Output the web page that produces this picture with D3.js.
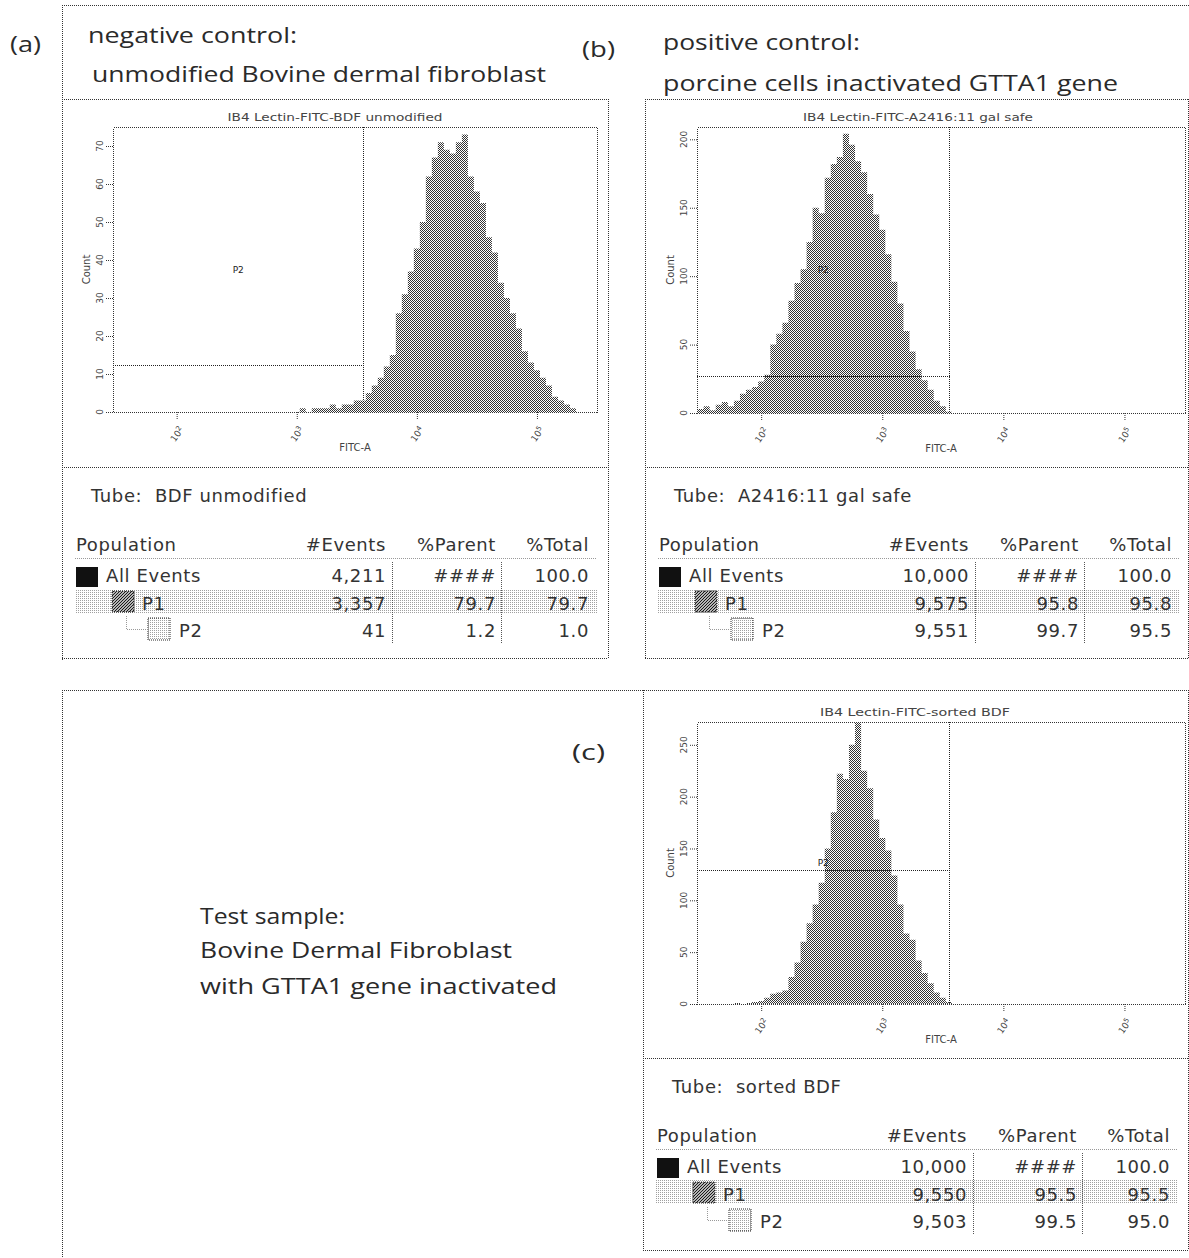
<!DOCTYPE html>
<html>
<head>
<meta charset="utf-8">
<script src="https://cdn.jsdelivr.net/npm/d3@7"></script>
<style>
body { margin: 0; background: #fff; }
svg { display: block; }
</style>
</head>
<body>
<script>
var width = 1189;
var height = 1258;

// histogram bins: log10(FITC-A) bin centre and event count
var negLog = [3.00,3.05,3.10,3.15,3.20,3.25,3.30,3.35,3.40,3.45,3.50,3.55,3.60,3.65,3.70,3.75,3.80,3.85,3.90,3.95,
              4.00,4.05,4.10,4.15,4.20,4.25,4.30,4.35,4.40,4.45,4.50,4.55,4.60,4.65,4.70,4.75,4.80,4.85,4.90,4.95,
              5.00,5.05,5.10,5.15,5.20,5.25,5.30,5.35];
var negCount = [0,1,0,1,1,1,2,1,2,2,3,3,5,7,9,12,15,26,31,37,
                43,50,62,67,71,69,68,71,73,62,58,55,46,42,34,30,26,22,16,13,
                11,9,7,4,3,2,1,0];

var posLog = [1.50,1.55,1.60,1.65,1.70,1.75,1.80,1.85,1.90,1.95,2.00,2.05,2.10,2.15,2.20,2.25,2.30,2.35,2.40,2.45,
              2.50,2.55,2.60,2.65,2.70,2.75,2.80,2.85,2.90,2.95,3.00,3.05,3.10,3.15,3.20,3.25,3.30,3.35,3.40,3.45,
              3.50,3.55];
var posCount = [3,5,2,6,8,5,9,14,17,19,23,28,50,58,66,82,95,105,125,150,
                146,172,182,187,204,196,184,176,160,145,134,116,96,80,60,45,32,24,17,9,
                5,1];

var testLog = [1.80,1.85,1.90,1.95,2.00,2.05,2.10,2.15,2.20,2.25,2.30,2.35,2.40,2.45,2.50,2.55,2.60,2.65,2.70,2.75,
               2.80,2.85,2.90,2.95,3.00,3.05,3.10,3.15,3.20,3.25,3.30,3.35,3.40,3.45,3.50,3.55];
var testCount = [1,0,1,2,3,6,10,11,13,26,40,60,78,96,117,150,185,222,217,250,
                 272,225,208,178,160,148,124,96,68,62,42,30,20,11,6,2];

var binHalf = 0.025;
var xDomain = [Math.pow(10, 1.47), Math.pow(10, 5.5)];
var xMajor = [1e2, 1e3, 1e4, 1e5];
var xExp = ["2", "3", "4", "5"];

var negYTicks = [0, 10, 20, 30, 40, 50, 60, 70];
var posYTicks = [0, 50, 100, 150, 200];
var testYTicks = [0, 50, 100, 150, 200, 250];

// P2 interval gate: upper FITC limit (log10) and the height its bar is drawn at
var gateLog = 3.55;
var negGateY = 12.5, posGateY = 27, testGateY = 129;

// population tables
var tableHead = ["Population", "#Events", "%Parent", "%Total"];
var popNames = ["All Events", "P1", "P2"];
var negEvents = ["4,211", "3,357", "41"];
var negParent = ["####", "79.7", "1.2"];
var negTotal = ["100.0", "79.7", "1.0"];
var posEvents = ["10,000", "9,575", "9,551"];
var posParent = ["####", "95.8", "99.7"];
var posTotal = ["100.0", "95.8", "95.5"];
var testEvents = ["10,000", "9,550", "9,503"];
var testParent = ["####", "95.5", "99.5"];
var testTotal = ["100.0", "95.5", "95.0"];

var svg = d3.select("body")
  .append("svg")
  .attr("width", width)
  .attr("height", height);

var defs = svg.append("defs");

// dithered look of the scanned print
var chk = defs.append("pattern").attr("id", "chk")
  .attr("width", 2).attr("height", 2).attr("patternUnits", "userSpaceOnUse");
chk.append("rect").attr("width", 2).attr("height", 2).attr("fill", "#fff");
chk.append("rect").attr("width", 1).attr("height", 1).attr("fill", "#333");
chk.append("rect").attr("x", 1).attr("y", 1).attr("width", 1).attr("height", 1).attr("fill", "#333");

var light = defs.append("pattern").attr("id", "light")
  .attr("width", 2).attr("height", 2).attr("patternUnits", "userSpaceOnUse");
light.append("rect").attr("width", 2).attr("height", 2).attr("fill", "#fff");
light.append("rect").attr("width", 1).attr("height", 1).attr("fill", "#a0a0a0");

var hatch = defs.append("pattern").attr("id", "hatch")
  .attr("width", 3).attr("height", 3).attr("patternUnits", "userSpaceOnUse");
hatch.append("rect").attr("width", 3).attr("height", 3).attr("fill", "#fff");
hatch.append("path").attr("d", "M-1,1 L1,-1 M0,3 L3,0 M2,4 L4,2").attr("stroke", "#111").attr("stroke-width", 1.2);

function dline(x1, y1, x2, y2) {
  svg.append("line")
    .attr("x1", x1).attr("y1", y1).attr("x2", x2).attr("y2", y2)
    .attr("stroke", "#333")
    .attr("stroke-dasharray", "1,1")
    .attr("shape-rendering", "crispEdges");
}

// outer frames
dline(62, 5.5, 1189, 5.5);
dline(62.5, 5, 62.5, 660);
dline(62, 99.5, 608, 99.5);
dline(608.5, 99, 608.5, 658);
dline(62, 467.5, 608, 467.5);
dline(62, 658.5, 608, 658.5);
dline(645, 99.5, 1189, 99.5);
dline(645.5, 99, 645.5, 658);
dline(1188.5, 99, 1188.5, 658);
dline(645, 467.5, 1189, 467.5);
dline(645, 658.5, 1189, 658.5);

dline(62, 690.5, 1189, 690.5);
dline(62.5, 690, 62.5, 1258);
dline(643.5, 690, 643.5, 1250);
dline(1188.5, 690, 1188.5, 1250);
dline(643, 1058.5, 1189, 1058.5);
dline(643, 1250.5, 1189, 1250.5);

// captions
var cap = svg.append("g")
  .attr("font-family", "'Open Sans', sans-serif")
  .attr("font-size", "22px")
  .attr("fill", "#2a2a2a");

function caption(t, x, y, len) {
  var el = cap.append("text").attr("x", x).attr("y", y).text(t);
  if (len) el.attr("textLength", len).attr("lengthAdjust", "spacingAndGlyphs");
}
caption("(a)", 10, 52, 31);
caption("negative control:", 88, 43, 209);
caption("unmodified Bovine dermal fibroblast", 92, 82, 454);
caption("(b)", 582, 57, 33);
caption("positive control:", 663, 50, 197);
caption("porcine cells inactivated GTTA1 gene", 663, 91, 455);
caption("(c)", 572, 760, 33);
caption("Test sample:", 200, 924, 145);
caption("Bovine Dermal Fibroblast", 200, 958, 312);
caption("with GTTA1 gene inactivated", 200, 994, 357);

function drawPlot(p) {
  var g = svg.append("g");
  var x = d3.scaleLog().domain(xDomain).range([p.l, p.r]);
  var y = d3.scaleLinear().domain([0, p.yMax]).range([p.b, p.t]);

  defs.append("clipPath").attr("id", p.id + "clip")
    .append("rect").attr("x", p.l).attr("y", p.t)
    .attr("width", p.r - p.l).attr("height", p.b - p.t);

  // step outline: each bin starts at its lower edge, closed at the last upper edge
  var bins = d3.zip(p.log, p.count).map(d => [d[0] - binHalf, d[1]]);
  var last = bins[bins.length - 1];
  bins.push([last[0] + 2 * binHalf, last[1]]);
  var area = d3.area()
    .curve(d3.curveStepAfter)
    .x(d => x(Math.pow(10, d[0])))
    .y0(p.b)
    .y1(d => y(d[1]));

  g.append("path")
    .attr("clip-path", "url(#" + p.id + "clip)")
    .attr("d", area(bins))
    .attr("fill", "url(#chk)");

  g.append("rect")
    .attr("x", p.l + 0.5).attr("y", p.t + 0.5)
    .attr("width", p.r - p.l).attr("height", p.b - p.t)
    .attr("fill", "none")
    .attr("stroke", "#333")
    .attr("stroke-dasharray", "1,1")
    .attr("shape-rendering", "crispEdges");

  // P2 gate
  var gx = Math.round(x(Math.pow(10, gateLog))) + 0.5;
  var gy = Math.round(y(p.gateY)) + 0.5;
  g.append("line").attr("x1", gx).attr("x2", gx).attr("y1", p.t).attr("y2", p.b)
    .attr("stroke", "#222").attr("stroke-dasharray", "1,1").attr("shape-rendering", "crispEdges");
  g.append("line").attr("x1", p.l).attr("x2", gx).attr("y1", gy).attr("y2", gy)
    .attr("stroke", "#222").attr("stroke-dasharray", "1,1").attr("shape-rendering", "crispEdges");
  g.append("text")
    .attr("x", (p.l + gx) / 2).attr("y", (p.t + p.b) / 2 + 3)
    .attr("text-anchor", "middle")
    .attr("font-family", "DejaVu Sans, sans-serif")
    .attr("font-size", "9px").attr("fill", "#222")
    .text("P2");

  // axes
  var minor = x.ticks().filter(v => xMajor.indexOf(v) < 0);
  var axX = g.append("g").attr("transform", "translate(0," + p.b + ")");
  axX.call(d3.axisBottom(x).tickValues(minor).tickSize(4).tickFormat(""));
  axX.call(d3.axisBottom(x).tickValues(xMajor).tickSize(7).tickFormat(""));
  var axY = g.append("g").attr("transform", "translate(" + p.l + ",0)");
  axY.call(d3.axisLeft(y).tickValues(d3.range(0, p.yMax, p.yMinor)).tickSize(4).tickFormat(""));
  axY.call(d3.axisLeft(y).tickValues(p.yTicks).tickSize(7).tickFormat(""));
  g.selectAll(".domain").remove();
  g.selectAll(".tick line").attr("stroke", "#333").attr("stroke-dasharray", "1,1");

  var lab = g.append("g")
    .attr("font-family", "DejaVu Sans, sans-serif")
    .attr("fill", "#444");

  xMajor.forEach(function (v, i) {
    var t = lab.append("text")
      .attr("transform", "translate(" + (x(v) + 3) + "," + (p.b + 24) + ") rotate(-55)")
      .attr("text-anchor", "middle")
      .attr("font-size", "9px");
    t.append("tspan").text("10");
    t.append("tspan").attr("dy", -3).attr("font-size", "7px").text(xExp[i]);
  });
  p.yTicks.forEach(function (v) {
    lab.append("text")
      .attr("transform", "translate(" + (p.l - 10) + "," + y(v) + ") rotate(-90)")
      .attr("text-anchor", "middle")
      .attr("font-size", "9px")
      .text(v);
  });
  lab.append("text")
    .attr("transform", "translate(" + (p.l - 23) + "," + ((p.t + p.b) / 2) + ") rotate(-90)")
    .attr("text-anchor", "middle")
    .attr("font-size", "10px")
    .text("Count");
  lab.append("text")
    .attr("x", (p.l + p.r) / 2).attr("y", p.b + 39)
    .attr("text-anchor", "middle")
    .attr("font-size", "10px")
    .text("FITC-A");
  lab.append("text")
    .attr("x", p.cx).attr("y", p.t - 6)
    .attr("text-anchor", "middle")
    .attr("font-size", "10px")
    .attr("textLength", p.titleLen).attr("lengthAdjust", "spacingAndGlyphs")
    .text(p.title);
}

function drawTable(t) {
  var g = svg.append("g")
    .attr("font-family", "DejaVu Sans, sans-serif")
    .attr("font-size", "18px")
    .attr("letter-spacing", "0.6px")
    .attr("fill", "#333");
  var L = t.x, T = t.y;
  var colR = [null, L + 324, L + 434, L + 527];

  g.append("text").attr("x", L + 29).attr("y", T + 35).attr("xml:space", "preserve").text("Tube:  " + t.tube);

  tableHead.forEach(function (h, i) {
    g.append("text")
      .attr("x", i == 0 ? L + 14 : colR[i]).attr("y", T + 84)
      .attr("text-anchor", i == 0 ? "start" : "end")
      .text(h);
  });
  g.append("line").attr("x1", L + 13).attr("x2", L + 535).attr("y1", T + 91.5).attr("y2", T + 91.5)
    .attr("stroke", "#999").attr("stroke-dasharray", "1,1");

  // shaded P1 row
  g.append("rect").attr("x", L + 13).attr("y", T + 122).attr("width", 522).attr("height", 24)
    .attr("fill", "url(#light)");

  // population icons
  g.append("rect").attr("x", L + 14).attr("y", T + 100).attr("width", 22).attr("height", 20).attr("fill", "#111");
  g.append("rect").attr("x", L + 50).attr("y", T + 124).attr("width", 22).attr("height", 21)
    .attr("fill", "url(#hatch)").attr("stroke", "#222").attr("stroke-dasharray", "1,1");
  g.append("path").attr("d", "M" + (L + 64.5) + "," + (T + 149) + " V" + (T + 162.5) + " H" + (L + 84))
    .attr("fill", "none").attr("stroke", "#999").attr("stroke-dasharray", "1,1");
  g.append("rect").attr("x", L + 86).attr("y", T + 151).attr("width", 22).attr("height", 22)
    .attr("fill", "url(#light)").attr("stroke", "#222").attr("stroke-dasharray", "1,1");

  var nameX = [L + 44, L + 80, L + 117];
  var rowY = [T + 115, T + 143, T + 170];
  popNames.forEach(function (n, i) {
    g.append("text").attr("x", nameX[i]).attr("y", rowY[i]).text(n);
    g.append("text").attr("x", colR[1]).attr("y", rowY[i]).attr("text-anchor", "end").text(t.events[i]);
    g.append("text").attr("x", colR[2]).attr("y", rowY[i]).attr("text-anchor", "end").text(t.parent[i]);
    g.append("text").attr("x", colR[3]).attr("y", rowY[i]).attr("text-anchor", "end").text(t.total[i]);
  });
  [L + 330.5, L + 439.5].forEach(function (sx) {
    g.append("line").attr("x1", sx).attr("x2", sx).attr("y1", T + 95).attr("y2", T + 177)
      .attr("stroke", "#555").attr("stroke-dasharray", "1,1");
  });
}

drawPlot({ id: "a", title: "IB4 Lectin-FITC-BDF unmodified", titleLen: 215, cx: 335,
  log: negLog, count: negCount, yMax: 75, yTicks: negYTicks, yMinor: 2, gateY: negGateY,
  l: 113, r: 597, t: 127, b: 412 });
drawPlot({ id: "b", title: "IB4 Lectin-FITC-A2416:11 gal safe", titleLen: 230, cx: 918,
  log: posLog, count: posCount, yMax: 209, yTicks: posYTicks, yMinor: 10, gateY: posGateY,
  l: 697, r: 1185, t: 127, b: 413 });
drawPlot({ id: "c", title: "IB4 Lectin-FITC-sorted BDF", titleLen: 190, cx: 915,
  log: testLog, count: testCount, yMax: 272, yTicks: testYTicks, yMinor: 10, gateY: testGateY,
  l: 697, r: 1185, t: 722, b: 1004 });

drawTable({ x: 62, y: 467, tube: "BDF unmodified", events: negEvents, parent: negParent, total: negTotal });
drawTable({ x: 645, y: 467, tube: "A2416:11 gal safe", events: posEvents, parent: posParent, total: posTotal });
drawTable({ x: 643, y: 1058, tube: "sorted BDF", events: testEvents, parent: testParent, total: testTotal });
</script>
</body>
</html>
